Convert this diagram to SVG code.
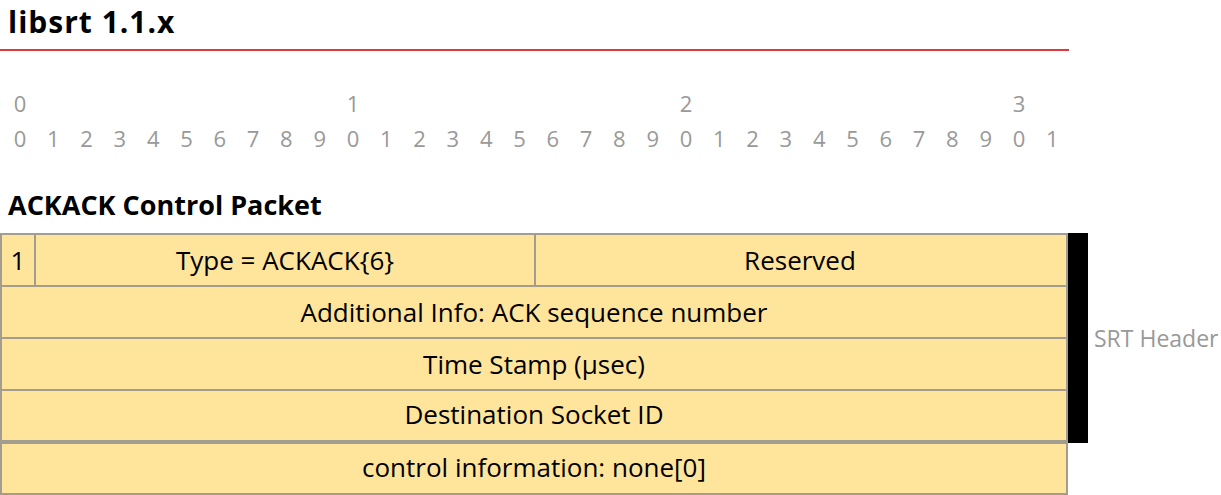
<svg xmlns="http://www.w3.org/2000/svg" width="1221" height="495" viewBox="0 0 1221 495">
  <style>
    .title { font-family: "Open Sans", "Liberation Sans", sans-serif; font-weight: bold; fill: #000; }
    .bit { font-family: "Open Sans", "Liberation Sans", sans-serif; font-size: 22px; fill: #999; text-anchor: middle; }
    .cell { fill: #fee59b; stroke: #a39d8f; stroke-width: 2; }
    .lbl { font-family: "Open Sans", "Liberation Sans", sans-serif; font-size: 26px; fill: #000; text-anchor: middle; }
    .side { font-family: "Open Sans", "Liberation Sans", sans-serif; font-size: 23px; fill: #999; }
  </style>

  <!-- heading -->
  <text class="title" x="8" y="33" font-size="30" letter-spacing="1">libsrt 1.1.x</text>
  <line x1="0" y1="50" x2="1069" y2="50" stroke="#e0393b" stroke-width="2"/>

  <!-- bit ruler: tens row -->
  <g id="ruler-tens">
    <text class="bit" x="20" y="112">0</text>
    <text class="bit" x="353" y="112">1</text>
    <text class="bit" x="686" y="112">2</text>
    <text class="bit" x="1019" y="112">3</text>
  </g>
  <!-- bit ruler: units row -->
  <g id="ruler-units">
    <text class="bit" x="20" y="147">0</text><text class="bit" x="53.3" y="147">1</text><text class="bit" x="86.6" y="147">2</text><text class="bit" x="119.9" y="147">3</text>
    <text class="bit" x="153.2" y="147">4</text><text class="bit" x="186.5" y="147">5</text><text class="bit" x="219.8" y="147">6</text><text class="bit" x="253.1" y="147">7</text>
    <text class="bit" x="286.4" y="147">8</text><text class="bit" x="319.7" y="147">9</text><text class="bit" x="353" y="147">0</text><text class="bit" x="386.3" y="147">1</text>
    <text class="bit" x="419.6" y="147">2</text><text class="bit" x="452.9" y="147">3</text><text class="bit" x="486.2" y="147">4</text><text class="bit" x="519.5" y="147">5</text>
    <text class="bit" x="552.8" y="147">6</text><text class="bit" x="586.1" y="147">7</text><text class="bit" x="619.4" y="147">8</text><text class="bit" x="652.7" y="147">9</text>
    <text class="bit" x="686" y="147">0</text><text class="bit" x="719.3" y="147">1</text><text class="bit" x="752.6" y="147">2</text><text class="bit" x="785.9" y="147">3</text>
    <text class="bit" x="819.2" y="147">4</text><text class="bit" x="852.5" y="147">5</text><text class="bit" x="885.8" y="147">6</text><text class="bit" x="919.1" y="147">7</text>
    <text class="bit" x="952.4" y="147">8</text><text class="bit" x="985.7" y="147">9</text><text class="bit" x="1019" y="147">0</text><text class="bit" x="1052.3" y="147">1</text>
  </g>

  <text class="title" x="8" y="215" font-size="27">ACKACK Control Packet</text>

  <!-- packet fields -->
  <g id="field-flag">
    <rect class="cell" x="1" y="234" width="34" height="52"/>
    <text class="lbl" x="18" y="270">1</text>
  </g>
  <g id="field-type">
    <rect class="cell" x="35" y="234" width="500" height="52"/>
    <text class="lbl" x="285" y="270">Type = ACKACK{6}</text>
  </g>
  <g id="field-reserved">
    <rect class="cell" x="535" y="234" width="532" height="52"/>
    <text class="lbl" x="800" y="270">Reserved</text>
  </g>
  <g id="field-additional">
    <rect class="cell" x="1" y="286" width="1066" height="52"/>
    <text class="lbl" x="534" y="322">Additional Info: ACK sequence number</text>
  </g>
  <g id="field-timestamp">
    <rect class="cell" x="1" y="338" width="1066" height="52"/>
    <text class="lbl" x="534" y="374">Time Stamp (µsec)</text>
  </g>
  <g id="field-dest">
    <rect class="cell" x="1" y="390" width="1066" height="51"/>
    <text class="lbl" x="534" y="424">Destination Socket ID</text>
  </g>
  <g id="field-control">
    <rect class="cell" x="1" y="443" width="1066" height="51"/>
    <text class="lbl" x="534" y="477">control information: none[0]</text>
  </g>

  <!-- SRT header bracket -->
  <g id="srt-header">
    <rect x="1068" y="233" width="20" height="210" fill="#000"/>
    <text class="side" x="1094" y="347">SRT Header</text>
  </g>
</svg>
